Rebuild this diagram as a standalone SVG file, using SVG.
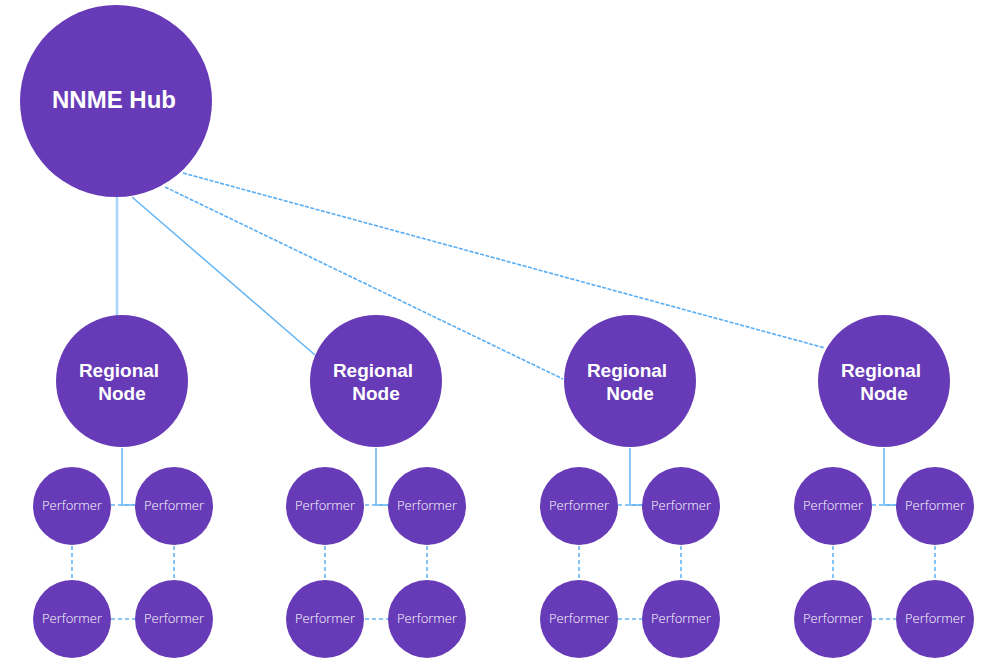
<svg xmlns="http://www.w3.org/2000/svg" width="984" height="658" viewBox="0 0 984 658">
<style>
.node{fill:#673AB7}
.hubt{font-family:"Liberation Sans",Arial,sans-serif;font-weight:bold;font-size:24px;fill:#fff;text-anchor:middle}
.regt{font-family:"Liberation Sans",Arial,sans-serif;font-weight:bold;font-size:19px;fill:#fff;text-anchor:middle}
.pert{font-family:"Open Sans","Liberation Sans",sans-serif;font-weight:300;font-size:13px;fill:#fff;text-anchor:middle}
.solid{stroke:#64B5F6;stroke-width:1.5;fill:none}
.thick{stroke:#A6D4FA;stroke-width:2.5;fill:none}
.dash{stroke:#5AAEF5;stroke-width:1.6;fill:none;stroke-dasharray:4 1.5}
.pd{stroke:#64B5F6;stroke-width:1.6;fill:none;stroke-dasharray:4 3}
</style>
<rect width="984" height="658" fill="#fff"/>
<g id="connectors">
<line class="thick" x1="117" y1="196" x2="117" y2="316"/>
<line class="solid" x1="132" y1="197" x2="315" y2="355"/>
<line class="dash" x1="165" y1="187" x2="563" y2="379"/>
<line class="dash" x1="183" y1="173" x2="825" y2="348"/>
<g id="g1">
<polyline class="solid" points="122,448 122,505 135,505"/>
<line class="pd" x1="111" y1="505" x2="135" y2="505"/>
<line class="pd" x1="72" y1="546" x2="72" y2="580"/>
<line class="pd" x1="174" y1="546" x2="174" y2="580"/>
<line class="pd" x1="111" y1="619" x2="135" y2="619"/>
</g>
<g id="g2">
<polyline class="solid" points="376,448 376,505 389,505"/>
<line class="pd" x1="365" y1="505" x2="389" y2="505"/>
<line class="pd" x1="325" y1="546" x2="325" y2="580"/>
<line class="pd" x1="427" y1="546" x2="427" y2="580"/>
<line class="pd" x1="365" y1="619" x2="389" y2="619"/>
</g>
<g id="g3">
<polyline class="solid" points="630,448 630,505 643,505"/>
<line class="pd" x1="618" y1="505" x2="642" y2="505"/>
<line class="pd" x1="579" y1="546" x2="579" y2="580"/>
<line class="pd" x1="681" y1="546" x2="681" y2="580"/>
<line class="pd" x1="618" y1="619" x2="642" y2="619"/>
</g>
<g id="g4">
<polyline class="solid" points="884,448 884,505 897,505"/>
<line class="pd" x1="872" y1="505" x2="896" y2="505"/>
<line class="pd" x1="833" y1="546" x2="833" y2="580"/>
<line class="pd" x1="935" y1="546" x2="935" y2="580"/>
<line class="pd" x1="872" y1="619" x2="896" y2="619"/>
</g>
</g>
<g id="hub"><circle class="node" cx="116" cy="101" r="96"/><text class="hubt" x="114" y="108">NNME Hub</text></g>
<g id="region1"><circle class="node" cx="122" cy="381" r="66"/><text class="regt" x="119" y="377">Regional</text><text class="regt" x="122" y="400">Node</text></g>
<g id="region2"><circle class="node" cx="376" cy="381" r="66"/><text class="regt" x="373" y="377">Regional</text><text class="regt" x="376" y="400">Node</text></g>
<g id="region3"><circle class="node" cx="630" cy="381" r="66"/><text class="regt" x="627" y="377">Regional</text><text class="regt" x="630" y="400">Node</text></g>
<g id="region4"><circle class="node" cx="884" cy="381" r="66"/><text class="regt" x="881" y="377">Regional</text><text class="regt" x="884" y="400">Node</text></g>
<g id="p1a"><circle class="node" cx="72" cy="506" r="39"/><text class="pert" x="72" y="510">Performer</text></g>
<g id="p1b"><circle class="node" cx="174" cy="506" r="39"/><text class="pert" x="174" y="510">Performer</text></g>
<g id="p1c"><circle class="node" cx="72" cy="619" r="39"/><text class="pert" x="72" y="623">Performer</text></g>
<g id="p1d"><circle class="node" cx="174" cy="619" r="39"/><text class="pert" x="174" y="623">Performer</text></g>
<g id="p2a"><circle class="node" cx="325" cy="506" r="39"/><text class="pert" x="325" y="510">Performer</text></g>
<g id="p2b"><circle class="node" cx="427" cy="506" r="39"/><text class="pert" x="427" y="510">Performer</text></g>
<g id="p2c"><circle class="node" cx="325" cy="619" r="39"/><text class="pert" x="325" y="623">Performer</text></g>
<g id="p2d"><circle class="node" cx="427" cy="619" r="39"/><text class="pert" x="427" y="623">Performer</text></g>
<g id="p3a"><circle class="node" cx="579" cy="506" r="39"/><text class="pert" x="579" y="510">Performer</text></g>
<g id="p3b"><circle class="node" cx="681" cy="506" r="39"/><text class="pert" x="681" y="510">Performer</text></g>
<g id="p3c"><circle class="node" cx="579" cy="619" r="39"/><text class="pert" x="579" y="623">Performer</text></g>
<g id="p3d"><circle class="node" cx="681" cy="619" r="39"/><text class="pert" x="681" y="623">Performer</text></g>
<g id="p4a"><circle class="node" cx="833" cy="506" r="39"/><text class="pert" x="833" y="510">Performer</text></g>
<g id="p4b"><circle class="node" cx="935" cy="506" r="39"/><text class="pert" x="935" y="510">Performer</text></g>
<g id="p4c"><circle class="node" cx="833" cy="619" r="39"/><text class="pert" x="833" y="623">Performer</text></g>
<g id="p4d"><circle class="node" cx="935" cy="619" r="39"/><text class="pert" x="935" y="623">Performer</text></g>
</svg>
